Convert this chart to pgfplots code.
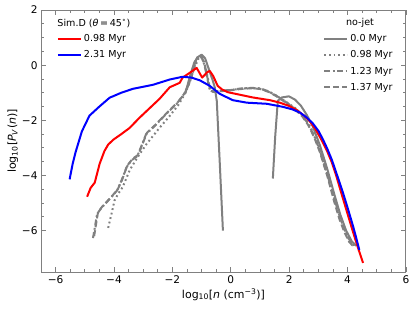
\documentclass[border=0pt]{standalone}
\usepackage{fontspec}
\setmainfont{DejaVu Sans}
\usepackage{pgfplots}
\pgfplotsset{compat=1.18}
\definecolor{gr}{RGB}{128,128,128}
\pgfplotsset{
  base/.style={
    width=365bp, height=262bp, scale only axis,
    xmin=-6.5, xmax=6, ymin=-7.5, ymax=2,
    xtick={-6,-4,-2,0,2,4,6}, xticklabels={−6,−4,−2,0,2,4,6},
    ytick={-6,-4,-2,0,2}, yticklabels={−6,−4,−2,0,2},
    minor x tick num=3, minor y tick num=3,
    tick align=inside,
    major tick length=5bp, minor tick length=2.8bp,
    axis line style={gr, line width=1bp},
    tick style={gr, line width=0.8bp},
    ticklabel style={font=\fontsize{10.6}{13}\selectfont},
    label style={font=\fontsize{11}{13}\selectfont},
    legend cell align=left,
    legend image code/.code={\draw[#1] (0bp,0bp) -- (23bp,0bp);},
  },
}
\begin{document}
\begin{tikzpicture}
\begin{axis}[base, name=ax,
  xlabel={log\textsubscript{10}[\textit{n} (cm\textsuperscript{−3})]},
  ylabel={log\textsubscript{10}[\textit{P}\textsubscript{\textit{V}}(\textit{n})]},
  xlabel style={yshift=2bp}, ylabel style={yshift=-3bp},
  legend style={at={(0.765,0.922)}, anchor=north west, draw=none, fill=none,
    font=\fontsize{9.6}{11.5}\selectfont, row sep=3.6bp},
]
% 0.0 Myr (solid), two parts
\addplot[gr, line width=2bp, line join=round] coordinates {
(-1.55,-1.0)(-1.4,-0.4)(-1.25,0.1)(-1.12,0.3)(-1.0,0.38)(-0.88,0.25)(-0.75,-0.15)(-0.62,-0.55)(-0.55,-0.8)(-0.48,-1.3)(-0.38,-3.5)(-0.27,-6.0)
};
\addlegendentry{0.0 Myr}
\addplot[gr, line width=2bp, dash pattern=on 1.8bp off 2.8bp] coordinates {
(-4.2,-5.9)(-4.08,-5.37)(-3.98,-4.9)(-3.85,-4.65)(-3.7,-4.42)(-3.46,-3.8)(-3.2,-3.35)(-2.88,-2.85)(-2.43,-2.26)(-2.1,-1.85)(-1.8,-1.45)(-1.55,-1.0)(-1.4,-0.6)(-1.25,-0.1)(-1.1,0.25)(-0.98,0.3)(-0.88,0.0)(-0.78,-0.5)(-0.7,-0.9)(-0.6,-0.95)(-0.3,-0.93)(0.0,-0.9)(0.3,-0.86)(0.65,-0.83)(1.0,-0.85)(1.3,-0.96)(1.55,-1.1)(1.85,-1.3)(2.2,-1.55)(2.45,-1.8)(2.65,-2.1)(2.85,-2.5)(3.05,-3.05)(3.3,-3.9)(3.55,-4.85)(3.72,-5.45)(3.88,-5.92)(4.05,-6.33)(4.2,-6.55)
};
\addlegendentry{0.98 Myr}
\addplot[gr, line width=2bp, dash pattern=on 6bp off 2.5bp on 1.8bp off 2.5bp] coordinates {
(-4.72,-6.27)(-4.65,-5.85)(-4.58,-5.4)(-4.45,-5.2)(-4.25,-4.97)(-4.1,-4.8)(-3.9,-4.55)(-3.75,-4.2)(-3.57,-3.7)(-3.4,-3.45)(-3.2,-3.3)(-2.9,-2.5)(-2.6,-2.2)(-2.33,-1.9)(-2.1,-1.65)(-1.85,-1.4)(-1.6,-1.05)(-1.45,-0.7)(-1.3,-0.25)(-1.2,0.2)(-1.1,0.35)(-1.0,0.3)(-0.9,0.0)(-0.8,-0.5)(-0.72,-0.9)(-0.6,-0.95)(-0.3,-0.92)(0.0,-0.9)(0.3,-0.85)(0.65,-0.82)(1.0,-0.84)(1.3,-0.95)(1.55,-1.1)(1.85,-1.31)(2.2,-1.57)(2.45,-1.83)(2.65,-2.13)(2.85,-2.55)(3.05,-3.1)(3.3,-3.95)(3.57,-4.93)(3.74,-5.52)(3.9,-5.98)(4.08,-6.37)(4.25,-6.55)
};
\addlegendentry{1.23 Myr}
\addplot[gr, line width=2bp, dash pattern=on 6bp off 3bp] coordinates {
(-4.68,-6.2)(-4.62,-5.8)(-4.55,-5.35)(-4.42,-5.15)(-4.22,-4.92)(-4.07,-4.75)(-3.87,-4.5)(-3.72,-4.15)(-3.55,-3.65)(-3.37,-3.4)(-3.17,-3.25)(-2.87,-2.45)(-2.57,-2.15)(-2.3,-1.85)(-2.07,-1.6)(-1.82,-1.35)(-1.57,-1.0)(-1.42,-0.65)(-1.28,-0.2)(-1.18,0.22)(-1.08,0.33)(-0.98,0.25)(-0.88,-0.05)(-0.78,-0.55)(-0.7,-0.92)(-0.6,-0.97)(-0.3,-0.94)(0.0,-0.91)(0.3,-0.87)(0.65,-0.84)(1.0,-0.86)(1.3,-0.97)(1.55,-1.12)(1.85,-1.33)(2.2,-1.6)(2.45,-1.86)(2.65,-2.17)(2.85,-2.6)(3.05,-3.15)(3.3,-4.0)(3.55,-4.98)(3.72,-5.58)(3.88,-6.03)(4.05,-6.4)(4.22,-6.6)
};
\addlegendentry{1.37 Myr}
\addplot[gr, line width=2bp, line join=round, forget plot] coordinates {
(1.44,-4.11)(1.52,-2.6)(1.61,-1.29)(1.75,-1.17)(1.99,-1.13)(2.2,-1.25)(2.4,-1.47)(2.6,-1.8)(2.8,-2.2)(3.05,-2.9)(3.3,-3.75)(3.55,-4.7)(3.75,-5.42)(3.95,-6.0)(4.15,-6.4)(4.3,-6.55)
};
\node[font=\fontsize{9.6}{11.5}\selectfont] at (rel axis cs:0.874,0.95) {no-jet};
\end{axis}
\begin{axis}[base, hide axis,
  legend style={at={(0.035,0.922)}, anchor=north west, draw=none, fill=none,
    font=\fontsize{9.6}{11.5}\selectfont, row sep=3.6bp},
]
\addplot[red, line width=2bp, line join=round] coordinates {
(-4.92,-4.77)(-4.8,-4.45)(-4.66,-4.26)(-4.49,-3.57)(-4.33,-3.12)(-4.2,-2.88)(-4.02,-2.7)(-3.75,-2.5)(-3.47,-2.28)(-3.12,-1.9)(-2.8,-1.58)(-2.44,-1.22)(-2.09,-0.8)(-1.75,-0.64)(-1.65,-0.45)(-1.41,-0.28)(-1.17,-0.1)(-0.98,-0.45)(-0.8,-0.25)(-0.72,-0.21)(-0.6,-0.4)(-0.45,-0.75)(-0.3,-0.88)(-0.1,-0.98)(0.21,-1.05)(0.75,-1.17)(1.34,-1.27)(1.68,-1.36)(2.0,-1.48)(2.26,-1.63)(2.5,-1.82)(2.7,-2.03)(2.9,-2.32)(3.1,-2.7)(3.3,-3.12)(3.45,-3.5)(3.6,-3.97)(3.78,-4.62)(3.95,-5.22)(4.12,-5.82)(4.25,-6.27)(4.38,-6.7)(4.53,-7.17)
};
\addlegendentry{0.98 Myr}
\addplot[blue, line width=2bp, line join=round] coordinates {
(-5.52,-4.14)(-5.42,-3.6)(-5.32,-3.17)(-5.1,-2.4)(-4.84,-1.83)(-4.5,-1.5)(-4.15,-1.18)(-3.75,-1.0)(-3.36,-0.86)(-2.66,-0.71)(-2.09,-0.52)(-1.65,-0.42)(-1.35,-0.45)(-1.06,-0.55)(-0.72,-0.75)(-0.38,-1.04)(0.07,-1.27)(0.55,-1.36)(1.23,-1.40)(1.78,-1.51)(2.1,-1.6)(2.37,-1.72)(2.6,-1.9)(2.8,-2.1)(3.0,-2.38)(3.15,-2.68)(3.3,-3.02)(3.46,-3.43)(3.65,-4.02)(3.84,-4.62)(4.0,-5.17)(4.19,-5.85)(4.3,-6.28)(4.40,-6.7)
};
\addlegendentry{2.31 Myr}
\node[font=\fontsize{9.6}{11.5}\selectfont] at (rel axis cs:0.145,0.95) {Sim.D (\textit{θ}\,=\,45\textsuperscript{∘})};
\end{axis}
\pgfresetboundingbox
\path[use as bounding box] (ax.south west) ++(-41bp,-38bp) rectangle ++(415bp,310bp);
\end{tikzpicture}
\end{document}
